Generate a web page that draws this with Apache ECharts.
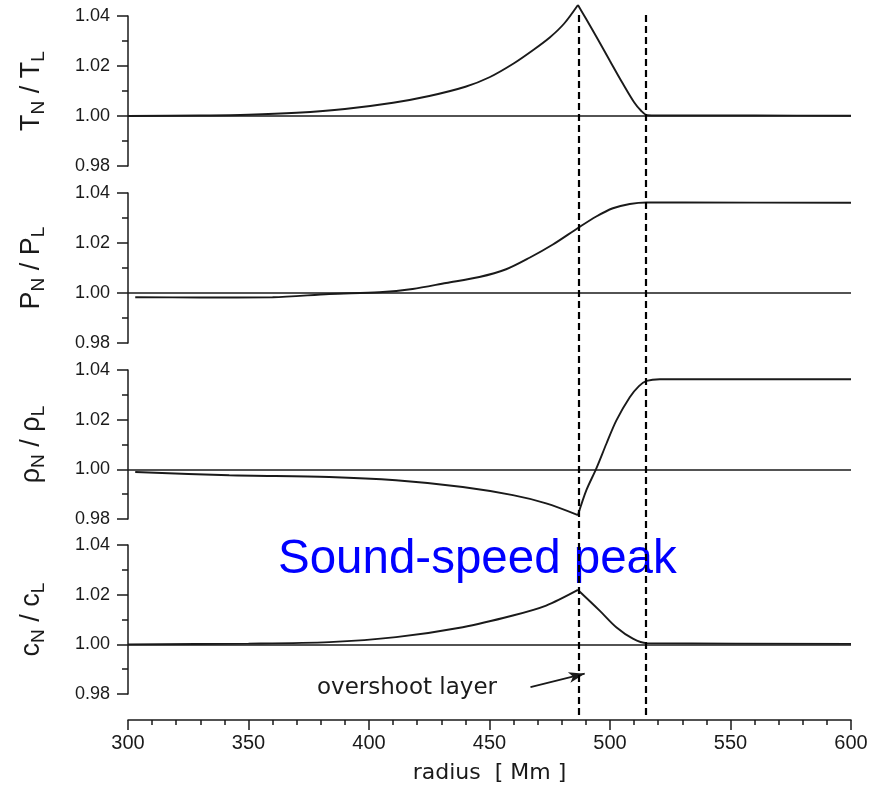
<!DOCTYPE html>
<html>
<head>
<meta charset="utf-8">
<script src="https://cdn.jsdelivr.net/npm/echarts@6/dist/echarts.min.js"></script>
<style>
html,body{margin:0;padding:0;background:#fff;}
#c{width:883px;height:786px;}
</style>
</head>
<body>
<div id="c"></div>
<script>
// ---- data ----
const radiusT = [300, 330, 350, 370, 390, 410, 425, 440, 450, 460, 468, 475, 481, 486.7, 490, 495, 500, 505, 510, 513, 515.5, 520, 560, 600];
const tempRatio = [1.0000, 1.0002, 1.0005, 1.0013, 1.0028, 1.0053, 1.0080, 1.0117, 1.0155, 1.0210, 1.0263, 1.0314, 1.0370, 1.0444, 1.0390, 1.0306, 1.0220, 1.0135, 1.0055, 1.0020, 1.0003, 1.0002, 1.0002, 1.0001];

const radiusP = [303, 330, 360, 383.5, 404.3, 418.1, 432, 445.8, 456.9, 466.6, 476.3, 486.7, 494.3, 501.2, 508.2, 515.2, 530, 600];
const presRatio = [0.9983, 0.9982, 0.9983, 0.9996, 1.0003, 1.0016, 1.0040, 1.0064, 1.0095, 1.0141, 1.0194, 1.0260, 1.0306, 1.0339, 1.0356, 1.0362, 1.0362, 1.0361];

const radiusRho = [303, 342, 383.5, 411.2, 438.9, 459.7, 473.5, 486.7, 490.2, 494.3, 498.5, 502.6, 508.2, 512, 515.2, 520.7, 600];
const densRatio = [0.9989, 0.9976, 0.9969, 0.9956, 0.9929, 0.9896, 0.9863, 0.9816, 0.9916, 1.0003, 1.0103, 1.0196, 1.0290, 1.0335, 1.0356, 1.0363, 1.0363];

const radiusC = [300, 350, 383.5, 411.2, 438.9, 459.7, 473.5, 486.7, 495.7, 502.6, 509.5, 515.2, 600];
const soundRatio = [1.0000, 1.0003, 1.0009, 1.0029, 1.0069, 1.0116, 1.0156, 1.0219, 1.0136, 1.0069, 1.0023, 1.0005, 1.0002];

const layerBounds = [487, 515];          // overshoot layer limits (Mm)
const arrowFrom = [467, 0.9828];         // annotation arrow in panel-4 data units
const arrowTo = [489.5, 0.9882];

const yTicks = {min: 0.98, max: 1.04, interval: 0.02};
const xTicks = {min: 300, max: 600, interval: 50};

const panelNames = [
  '{m|T}{s|N}{m| / T}{s|L}',
  '{m|P}{s|N}{m| / P}{s|L}',
  '{m|ρ}{s|N}{m| / ρ}{s|L}',
  '{m|c}{s|N}{m| / c}{s|L}'
];

// ---- chart ----
const zip = (xs, ys) => xs.map((x, i) => [x, ys[i]]);
const INK = '#1a1a1a';
const panelTops = [16, 193, 370, 545];
const panelHeights = [150, 150, 149, 149];

const grids = panelTops.map((t, i) => ({left: 128, right: 32, top: t, height: panelHeights[i]}));
grids.push({left: 128, right: 32, top: 12, bottom: 71}); // overlay for dashed lines

const xAxes = grids.map((g, i) => ({
  type: 'value', gridIndex: i, min: xTicks.min, max: xTicks.max, interval: xTicks.interval,
  show: i === 3,
  offset: i === 3 ? 26 : 0,
  axisLine: {show: true, lineStyle: {color: INK, width: 1.5}},
  axisTick: {show: true, inside: false, length: 10, lineStyle: {color: INK, width: 1.5}},
  minorTick: {show: true, splitNumber: 5, length: 5, lineStyle: {color: INK, width: 1.5}},
  axisLabel: {show: true, margin: 13, fontFamily: 'Liberation Sans', fontSize: 20, color: INK},
  splitLine: {show: false},
  name: i === 3 ? 'radius  [ Mm ]' : '',
  nameLocation: 'middle', nameGap: 42,
  nameTextStyle: {fontFamily: 'DejaVu Sans', fontSize: 22, color: INK}
}));

const yAxes = grids.map((g, i) => i < 4 ? ({
  type: 'value', gridIndex: i, min: yTicks.min, max: yTicks.max, interval: yTicks.interval,
  axisLine: {show: true, lineStyle: {color: INK, width: 1.5}},
  axisTick: {show: true, length: 11, lineStyle: {color: INK, width: 1.5}},
  minorTick: {show: true, splitNumber: 2, length: 6, lineStyle: {color: INK, width: 1.5}},
  axisLabel: {margin: 18, fontFamily: 'Liberation Sans', fontSize: 18, color: INK,
              formatter: v => v.toFixed(2)},
  splitLine: {show: false},
  name: panelNames[i], nameLocation: 'middle', nameRotate: 90, nameGap: 80,
  nameTextStyle: {
    color: INK, fontFamily: 'Liberation Sans',
    rich: {
      m: {fontSize: 27, lineHeight: 32, color: INK, fontFamily: 'Liberation Sans'},
      s: {fontSize: 19, lineHeight: 19, verticalAlign: 'bottom', color: INK, fontFamily: 'Liberation Sans'}
    }
  }
}) : ({type: 'value', gridIndex: i, min: 0, max: 1, show: false}));

const baseLine = {
  silent: true, symbol: 'none',
  lineStyle: {color: INK, width: 1.5, type: 'solid'},
  label: {show: false},
  data: [{yAxis: 1}]
};

// split a curve at its cusp so each side can be smoothed without rounding the cusp
function splitAt(xs, ys, cuspX) {
  const pts = zip(xs, ys);
  const k = xs.indexOf(cuspX);
  return k < 0 ? [pts] : [pts.slice(0, k + 1), pts.slice(k)];
}
const curveParts = [
  splitAt(radiusT, tempRatio, 486.7),
  splitAt(radiusP, presRatio, null),
  splitAt(radiusRho, densRatio, 486.7),
  splitAt(radiusC, soundRatio, 486.7)
];

const series = [];
curveParts.forEach((parts, i) => {
  parts.forEach((d, j) => {
    const s = {
      type: 'line', xAxisIndex: i, yAxisIndex: i, data: d,
      showSymbol: false, smooth: 0.3, clip: false,
      lineStyle: {color: INK, width: 1.9},
      animation: false
    };
    if (j === 0) s.markLine = baseLine;
    series.push(s);
  });
});

// annotation arrow in panel 4
series.push({
  type: 'line', xAxisIndex: 3, yAxisIndex: 3, data: [], showSymbol: false,
  markLine: {
    silent: true, symbol: ['none', 'arrow'], symbolSize: [8, 16],
    lineStyle: {color: INK, width: 1.8, type: 'solid'},
    label: {show: false},
    data: [[{coord: arrowFrom}, {coord: arrowTo}]]
  },
  animation: false
});

// dashed layer boundaries spanning all panels
series.push({
  type: 'line', xAxisIndex: 4, yAxisIndex: 4, data: [], showSymbol: false,
  markLine: {
    silent: true, symbol: 'none',
    lineStyle: {color: '#000', width: 2.2, type: [7, 4]},
    label: {show: false},
    data: layerBounds.map(b => ({xAxis: b}))
  },
  animation: false
});

const chart = echarts.init(document.getElementById('c'), null, {renderer: 'canvas'});
chart.setOption({
  backgroundColor: '#ffffff',
  animation: false,
  grid: grids, xAxis: xAxes, yAxis: yAxes, series: series,
  graphic: [
    {type: 'text', left: 278, top: 536, style: {text: 'Sound-speed peak', fill: '#0000ff',
      font: '47.5px "Liberation Sans", Arial, sans-serif'}},
    {type: 'text', left: 317, top: 677, style: {text: 'overshoot layer', fill: INK,
      font: '23px "DejaVu Sans", sans-serif'}}
  ]
});
</script>
</body>
</html>
